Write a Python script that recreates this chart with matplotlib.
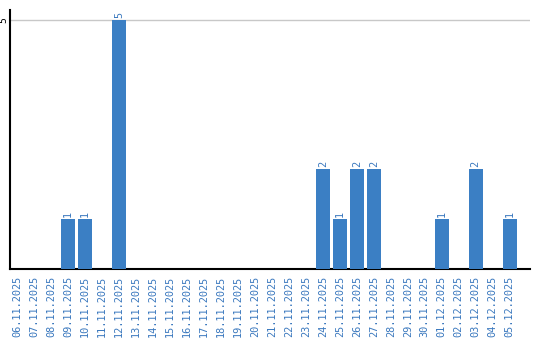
import matplotlib.pyplot as plt
import numpy as np

dates = ["06.11.2025", "07.11.2025", "08.11.2025", "09.11.2025", "10.11.2025",
         "11.11.2025", "12.11.2025", "13.11.2025", "14.11.2025", "15.11.2025",
         "16.11.2025", "17.11.2025", "18.11.2025", "19.11.2025", "20.11.2025",
         "21.11.2025", "22.11.2025", "23.11.2025", "24.11.2025", "25.11.2025",
         "26.11.2025", "27.11.2025", "28.11.2025", "29.11.2025", "30.11.2025",
         "01.12.2025", "02.12.2025", "03.12.2025", "04.12.2025", "05.12.2025"]
counts = [0, 0, 0, 1, 1, 0, 5, 0, 0, 0,
          0, 0, 0, 0, 0, 0, 0, 0, 2, 1,
          2, 2, 0, 0, 0, 1, 0, 2, 0, 1]

bar_color = "#3b7fc4"
label_color = "#3a78be"

fig = plt.figure(figsize=(5.4, 3.4), dpi=100)
ax = fig.add_axes([10 / 540, 71 / 340, 520 / 540, 259 / 340])

x = np.arange(len(dates))
bars = ax.bar(x, counts, width=0.82, color=bar_color, zorder=3)

for xi, v in zip(x, counts):
    if v > 0:
        ax.text(xi, v + 0.04, str(v), rotation=90, ha="center", va="bottom",
                fontsize=7.4, family="DejaVu Sans Mono", color=label_color)

ax.set_xlim(-0.42, len(dates) + 0.2)
ax.set_ylim(0, 5.2)
ax.set_yticks([5])
ax.set_yticklabels(["5"], rotation=90, va="center", fontsize=7,
                   family="DejaVu Sans Mono")
ax.yaxis.grid(True, color="#c8c8c8", linewidth=1, zorder=0)
ax.tick_params(axis="y", length=0, pad=1)

ax.set_xticks(x)
ax.set_xticklabels(dates, rotation=90, fontsize=7.4, family="DejaVu Sans Mono",
                   color=label_color)
ax.tick_params(axis="x", length=0, pad=5)

for s in ["top", "right"]:
    ax.spines[s].set_visible(False)
ax.spines["left"].set_linewidth(1.5)
ax.spines["bottom"].set_linewidth(1.5)

fig.savefig("out.png", dpi=100)
